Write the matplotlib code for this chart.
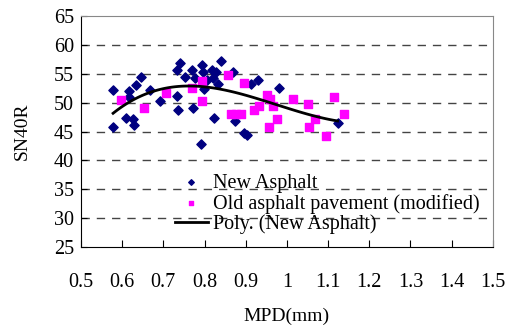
import matplotlib
matplotlib.use("Agg")
import matplotlib.pyplot as plt
import numpy as np

plt.rcParams['font.family'] = ['Liberation Serif', 'DejaVu Serif']

# New asphalt (MPD, SN40R)
new_mpd = [0.578, 0.578, 0.617, 0.616, 0.609, 0.627, 0.629, 0.633, 0.646, 0.667,
           0.692, 0.732, 0.740, 0.732, 0.736, 0.752, 0.769, 0.773, 0.778, 0.794,
           0.797, 0.799, 0.791, 0.805, 0.817, 0.827, 0.821, 0.824, 0.833, 0.840,
           0.868, 0.875, 0.896, 0.902, 0.912, 0.930, 0.981, 1.123]
new_sn = [52.2, 45.7, 52.0, 51.0, 47.4, 47.1, 46.1, 53.0, 54.5, 52.2,
          50.3, 55.6, 56.9, 51.2, 48.7, 54.5, 55.6, 49.0, 54.2, 56.5,
          55.3, 52.3, 42.9, 53.9, 55.6, 55.3, 54.2, 47.3, 53.3, 57.2,
          55.3, 46.9, 44.8, 44.4, 53.3, 54.0, 52.6, 46.4]

# Old asphalt pavement (modified)
old_mpd = [0.597, 0.654, 0.706, 0.770, 0.795, 0.795, 0.858, 0.864, 0.876, 0.888,
           0.896, 0.920, 0.933, 0.951, 0.960, 0.967, 0.957, 0.975, 1.015, 1.052,
           1.068, 1.054, 1.095, 1.114, 1.139]
old_sn = [50.4, 49.0, 51.6, 52.6, 53.7, 50.3, 54.8, 48.0, 48.1, 48.0,
          53.4, 48.8, 49.4, 51.3, 50.6, 49.4, 45.8, 47.1, 50.6, 49.7,
          47.1, 45.8, 44.2, 50.9, 48.1]

xticks = [0.5, 0.6, 0.7, 0.8, 0.9, 1, 1.1, 1.2, 1.3, 1.4, 1.5]
xlabels = ['0.5', '0.6', '0.7', '0.8', '0.9', '1', '1.1', '1.2', '1.3', '1.4', '1.5']
yticks = [25, 30, 35, 40, 45, 50, 55, 60, 65]

fig = plt.figure(figsize=(5.06, 3.27), dpi=100)
ax = fig.add_axes([0.160, 0.2446, 0.814, 0.7064])

ax.scatter(new_mpd, new_sn, marker='D', s=22, color='#000080', label='New Asphalt', zorder=3)
ax.scatter(old_mpd, old_sn, marker='s', s=30, color='#FF00FF', label='Old asphalt pavement (modified)', zorder=3)

# polynomial trendline of new asphalt
coef = np.polyfit(new_mpd, new_sn, 3)
xs = np.linspace(min(new_mpd), max(new_mpd), 100)
ax.plot(xs, np.polyval(coef, xs), color='black', lw=2, label='Poly. (New Asphalt)', zorder=4)

ax.set_xlim(0.5, 1.5)
ax.set_ylim(25, 65)
ax.set_xticks(xticks)
ax.set_xticklabels(xlabels)
ax.set_yticks(yticks)
ax.tick_params(axis='x', direction='in', length=5, pad=19, labelsize=14.5)
ax.tick_params(axis='y', direction='in', length=4, pad=5, labelsize=14.5)
for y in yticks[1:-1]:
    ax.axhline(y, color='#444444', lw=1, dashes=(6, 5), zorder=1)

ax.spines['top'].set_color('#888888')
ax.spines['right'].set_color('#888888')

ax.set_xlabel('MPD(mm)', fontsize=14, labelpad=11)
ax.set_ylabel('SN40R', fontsize=14, labelpad=17)

ax.legend(loc='upper left', bbox_to_anchor=(0.228, 0.318), frameon=False, fontsize=14.5,
          handlelength=1.65, handletextpad=0.25, labelspacing=0.05, borderpad=0,
          borderaxespad=0, markerscale=0.6)

fig.savefig('out.png', dpi=100)
